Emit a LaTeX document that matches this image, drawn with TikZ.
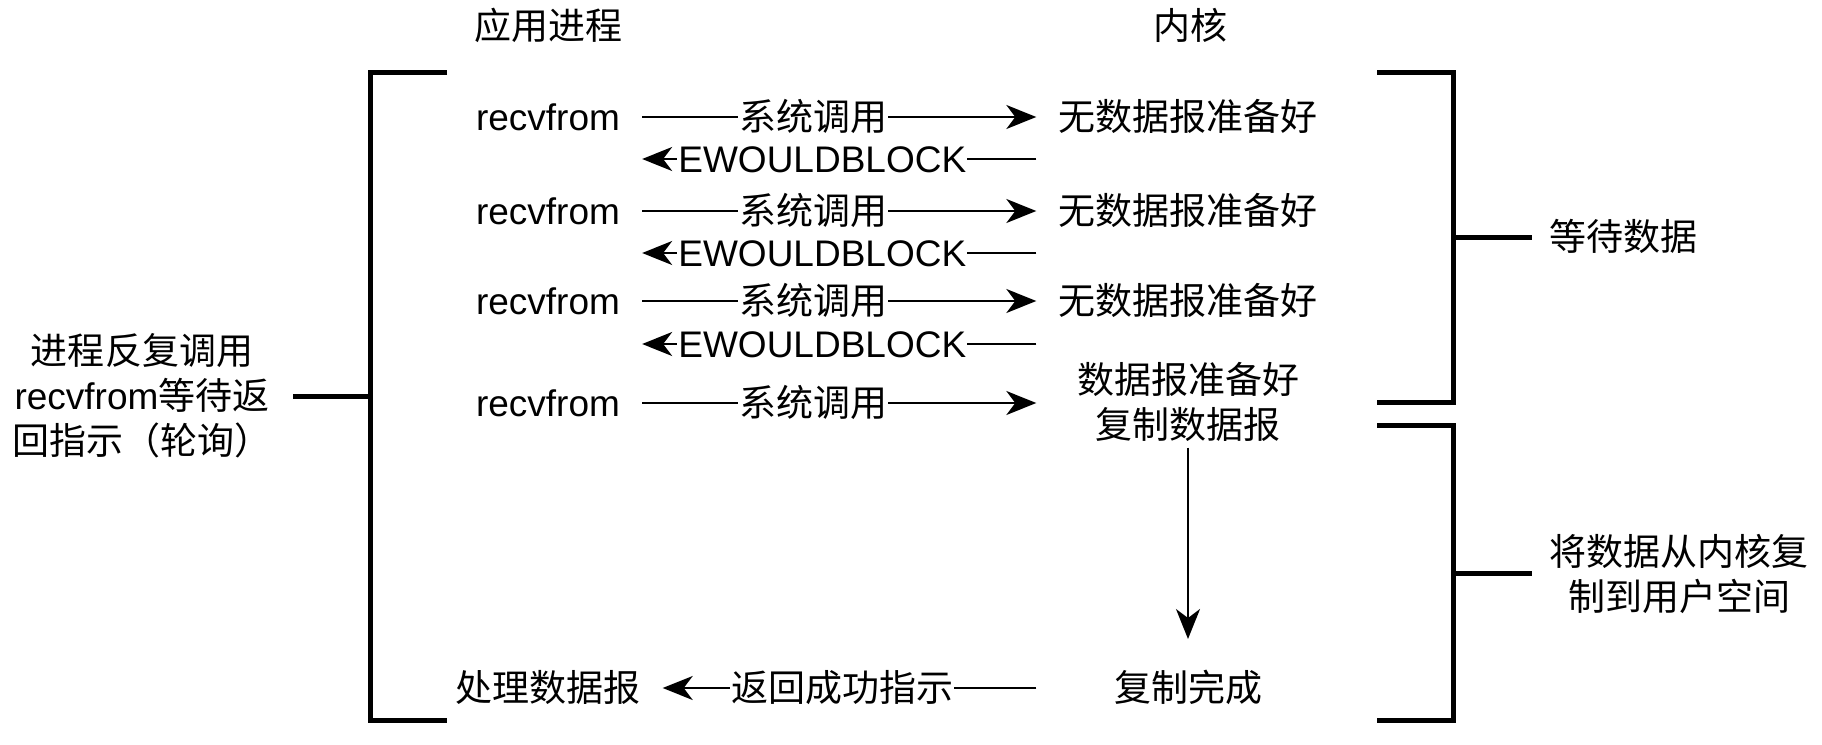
\documentclass[tikz,border=0pt]{standalone}
\usepackage{fontspec}
\setmainfont{Liberation Sans}
\newfontfamily\cjk{Noto Sans CJK SC}
\usetikzlibrary{arrows.meta}
\begin{document}
\begin{tikzpicture}[x=1pt,y=-1pt,
  every node/.style={font=\fontsize{37}{45}\selectfont, inner sep=0pt},
  lbl/.style={text height=31.5pt, text depth=4pt, inner xsep=22pt},
  elab/.style={fill=white, inner xsep=1pt, text height=31.5pt, text depth=4pt},
  arr/.style={line width=2pt, -{Stealth[length=30pt,width=24pt,inset=9pt]}},
  brk/.style={line width=5pt, line join=miter}]
\useasboundingbox (0,0) rectangle (1822,744);

% column heads
\node[lbl] (app) at (548,26) {\cjk 应用进程};
\node[lbl] (kern) at (1190,26) {\cjk 内核};

% application side
\node[lbl] (r1) at (548,117) {recvfrom};
\node[lbl] (r2) at (548,211) {recvfrom};
\node[lbl] (r3) at (548,301) {recvfrom};
\node[lbl] (r4) at (548,403) {recvfrom};
\node[lbl] (proc) at (548,688) {\cjk 处理数据报};

% kernel side
\node[lbl] (k1) at (1188,117) {\cjk 无数据报准备好};
\node[lbl] (k2) at (1188,211) {\cjk 无数据报准备好};
\node[lbl] (k3) at (1188,301) {\cjk 无数据报准备好};
\node[align=center, inner xsep=22pt] (k4) at (1188,401.5) {{\cjk 数据报准备好}\\{\cjk 复制数据报}};
\node[lbl] (done) at (1188,688) {\cjk 复制完成};

% system calls
\draw[arr] (r1.east) -- node[elab,pos=0.434]{\cjk 系统调用} (k1.west);
\draw[arr] (r2.east) -- node[elab,pos=0.434]{\cjk 系统调用} (k2.west);
\draw[arr] (r3.east) -- node[elab,pos=0.434]{\cjk 系统调用} (k3.west);
\draw[arr] (r4.east) -- node[elab,pos=0.434]{\cjk 系统调用} (k1.west |- r4.east);

% EWOULDBLOCK returns
\draw[arr] ([yshift=-42pt]k1.west) -- node[elab,pos=0.543]{EWOULDBLOCK} ([yshift=-42pt]r1.east);
\draw[arr] ([yshift=-42pt]k2.west) -- node[elab,pos=0.543]{EWOULDBLOCK} ([yshift=-42pt]r2.east);
\draw[arr] ([yshift=-43pt]k3.west) -- node[elab,pos=0.543]{EWOULDBLOCK} ([yshift=-43pt]r3.east);

% copy
\draw[arr] ([yshift=-46pt]k4.center) -- ([yshift=49pt]done.center);
\draw[arr] (k1.west |- done.west) -- node[elab,pos=0.52]{\cjk 返回成功指示} (proc.east);

% brackets
\draw[brk] (447,72) -- (370,72) -- (370,720) -- (447,720);
\draw[brk] (293,396) -- (370,396);
\draw[brk] (1377,72) -- (1453,72) -- (1453,402) -- (1377,402);
\draw[brk] (1453,237) -- (1532,237);
\draw[brk] (1377,425) -- (1453,425) -- (1453,720) -- (1377,720);
\draw[brk] (1453,573) -- (1532,573);

% bracket labels
\node[align=center] (lt) at (142,396) {{\cjk 进程反复调用}\\recvfrom{\cjk 等待返}\\{\cjk 回指示（轮询）}};
\node[lbl] (wait) at (1623,237) {\cjk 等待数据};
\node[align=center] (cp) at (1679,574) {{\cjk 将数据从内核复}\\{\cjk 制到用户空间}};
\end{tikzpicture}
\end{document}
